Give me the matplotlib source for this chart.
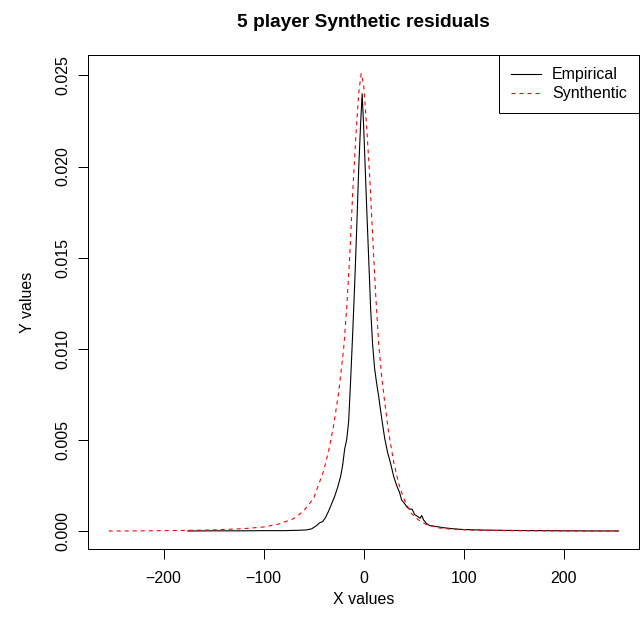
import matplotlib
matplotlib.use("Agg")
from matplotlib import pyplot as plt
from matplotlib.ticker import FormatStrFormatter
from numpy import array

# empirical residual density (5 players)
emp_x = [-176, -150, -120, -100, -80, -65, -57, -52, -47, -44, -41, -38,
         -35, -32, -29, -26, -23, -21, -19, -17, -15, -13, -11, -9, -7,
         -5, -3, -1.5, 0, 1.5, 3, 5, 7, 9, 11, 13, 15, 18, 21, 24, 27,
         30, 33, 36, 38, 41, 43.5, 46, 48.5, 51, 54, 56.5, 58, 60, 63,
         66, 72, 80, 90, 100, 120, 150, 200, 255]
emp_y = [0.0, 0.00001, 0.00001, 0.00002, 0.00002, 0.00004, 0.00006,
         0.00012, 0.00030, 0.00045, 0.00052, 0.00075, 0.0011, 0.0015,
         0.0019, 0.0024, 0.0030, 0.0036, 0.0045, 0.0050, 0.0060, 0.0083,
         0.0108, 0.0135, 0.0165, 0.0198, 0.0224, 0.0240, 0.0222, 0.0200,
         0.0178, 0.0150, 0.0122, 0.0102, 0.0089, 0.0081, 0.0074, 0.0062,
         0.0051, 0.0043, 0.0037, 0.0030, 0.0025, 0.0021, 0.0017, 0.0015,
         0.0013, 0.0012, 0.0012, 0.0009, 0.0008, 0.0007, 0.00085, 0.0006,
         0.0004, 0.0003, 0.00025, 0.00018, 0.00012, 0.00008, 0.00005,
         0.00003, 0.00001, 0.0]

# synthetic residual density
syn_x = [-255, -220, -180, -150, -120, -100, -85, -70, -60, -50, -40, -35,
         -30, -25, -20, -17, -14, -11, -8, -5, -2.5, 0, 3, 6, 9, 12, 15,
         18, 21, 25, 30, 35, 40, 47, 55, 63, 75, 90, 110, 140, 180, 220,
         255]
syn_y = [0.0, 0.00001, 0.00003, 0.00006, 0.00013, 0.00022, 0.00038,
         0.00068, 0.0011, 0.0018, 0.0033, 0.0044, 0.0058, 0.0076, 0.0100,
         0.0122, 0.0150, 0.0185, 0.0215, 0.0240, 0.0251, 0.0245, 0.0222,
         0.0195, 0.0162, 0.0130, 0.0103, 0.0085, 0.0071, 0.0054, 0.0038,
         0.0026, 0.0018, 0.0010, 0.0006, 0.00035, 0.00017, 0.00009,
         0.00005, 0.00002, 0.00001, 0.0, 0.0]

x_ticks = [-200, -100, 0, 100, 200]
y_ticks = [0.0, 0.005, 0.010, 0.015, 0.020, 0.025]
series_names = ["Empirical", "Synthentic"]

plt.rcParams["font.family"] = ["Liberation Sans", "DejaVu Sans"]
PX = 0.72  # one pixel in points at dpi 100
FS = 16 * PX


def r_limits(values):
    lo, hi = min(values), max(values)
    pad = 0.04 * (hi - lo)
    return lo - pad, hi + pad


def draw(ax):
    ax.plot(array(emp_x), array(emp_y), color="black", lw=1.1 * PX,
            label=series_names[0])
    ax.plot(array(syn_x), array(syn_y), color="red", lw=1.1 * PX,
            dashes=(4 / 1.1, 4 / 1.1), label=series_names[1])

    ax.set_xlim(r_limits(emp_x + syn_x))
    ax.set_ylim(r_limits(emp_y + syn_y))
    ax.set_xticks(x_ticks)
    ax.set_yticks(y_ticks)
    ax.yaxis.set_major_formatter(FormatStrFormatter("%.3f"))
    ax.tick_params(direction="out", length=9.6 * PX, width=PX,
                   labelsize=FS, pad=8 * PX)
    ax.tick_params(axis="x", pad=12 * PX)
    for lab in ax.get_yticklabels():
        lab.set_rotation(90)
        lab.set_va("center")
    for sp in ax.spines.values():
        sp.set_linewidth(PX)

    ax.set_xlabel("X values", fontsize=FS, labelpad=6 * PX)
    ax.set_ylabel("Y values", fontsize=FS, labelpad=21 * PX)
    ax.set_title("5 player Synthetic residuals", fontsize=19.2 * PX,
                 fontweight="bold", pad=28 * PX)

    leg = ax.legend(loc="upper right", borderaxespad=0, fancybox=False,
                    framealpha=1, edgecolor="black", fontsize=FS,
                    handlelength=1.875, handletextpad=0.7,
                    borderpad=0.75, labelspacing=0.24)
    leg.get_frame().set_linewidth(PX)


fig = plt.figure(figsize=(6.43, 6.26), dpi=100)
ax = fig.add_axes([88.3 / 643, 1 - 549.3 / 626,
                   (639 - 88.3) / 643, (549.3 - 55.3) / 626])
draw(ax)
fig.savefig("out.png", dpi=100)
